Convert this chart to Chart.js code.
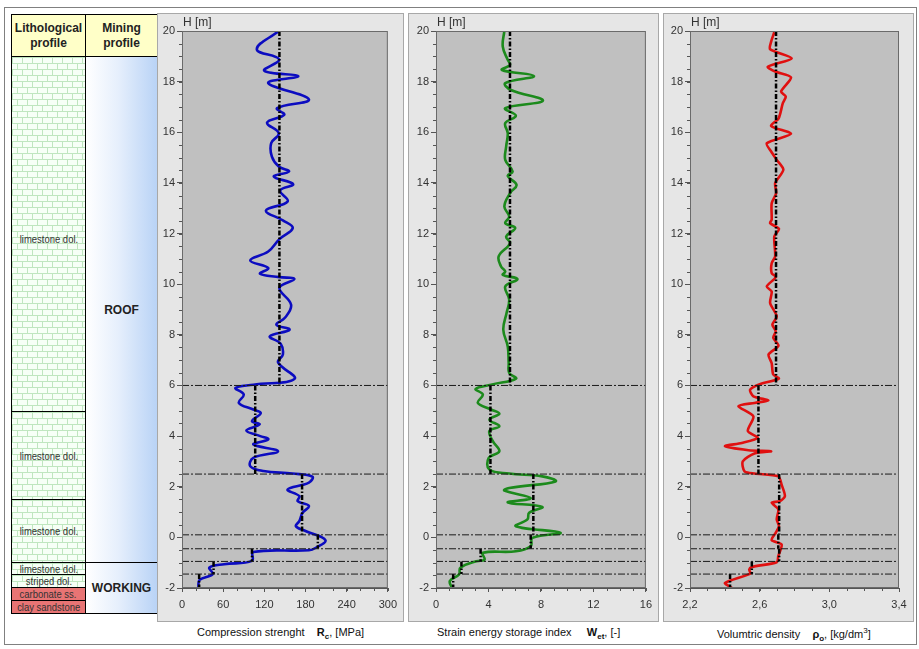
<!DOCTYPE html>
<html>
<head>
<meta charset="utf-8">
<script src="https://cdn.jsdelivr.net/npm/chart.js@4.4.0/dist/chart.umd.min.js"></script>
<style>
  body { margin: 0; width: 919px; height: 649px; background: #fff; position: relative; overflow: hidden;
         font-family: "Liberation Sans", Arial, sans-serif; color: #222; }
  #frame { position: absolute; left: 4px; top: 7px; width: 911px; height: 636px; border: 1px solid #808080; }
  .panel { position: absolute; top: 13px; height: 609px; background: #e6e6e6; border: 1px solid #a8a8a8; box-sizing: border-box; }
  canvas { position: absolute; top: 13px; }
  .cell { position: absolute; box-sizing: border-box; border: 1px solid #000; display: flex;
          align-items: center; justify-content: center; text-align: center; overflow: hidden; white-space: nowrap; }
  .head { background: #ffffc8; font-weight: bold; font-size: 12px; line-height: 15px; white-space: normal; }
  .litho { font-size: 11px; line-height: 10px; color: #333;
           background-color: #f6fff6;
           background-image: url("data:image/svg+xml,%3Csvg xmlns='http://www.w3.org/2000/svg' width='10' height='12'%3E%3Cpath d='M0 0.5H10M0 6.5H10M0.5 0V6M5.5 6V12' stroke='%23bfe6bf' stroke-width='1' fill='none'/%3E%3C/svg%3E"); }
  .litho span { display: inline-block; transform: scaleX(0.86); }
  .red { background: #e87474; }
  .mine { background: linear-gradient(90deg, #ffffff 0%, #e6effc 45%, #b9d3f6 100%); font-weight: bold; font-size: 12px; }
  .hlab { position: absolute; top: 15px; font-size: 12px; color: #333; }
  .xt { position: absolute; top: 626px; font-size: 11px; color: #111; white-space: nowrap; }
  .xt sub, .xt sup { font-size: 8px; }
</style>
</head>
<body>
<div id="frame"></div>

<div class="cell head" style="left:11px;top:14px;width:75px;height:43px;">Lithological<br>profile</div>
<div class="cell head" style="left:85px;top:14px;width:73px;height:43px;">Mining<br>profile</div>
<div class="cell litho" style="left:11px;top:56px;width:75px;height:356px;padding-top:10px;"><span>limestone dol.</span></div>
<div class="cell litho" style="left:11px;top:411px;width:75px;height:89px;"><span>limestone dol.</span></div>
<div class="cell litho" style="left:11px;top:499px;width:75px;height:64px;"><span>limestone dol.</span></div>
<div class="cell litho" style="left:11px;top:562px;width:75px;height:13px;"><span>limestone dol.</span></div>
<div class="cell litho" style="left:11px;top:574px;width:75px;height:14px;"><span>striped dol.</span></div>
<div class="cell litho red" style="left:11px;top:587px;width:75px;height:14px;"><span>carbonate ss.</span></div>
<div class="cell litho red" style="left:11px;top:600px;width:75px;height:14px;"><span>clay sandstone</span></div>
<div class="cell mine" style="left:85px;top:56px;width:73px;height:507px;">ROOF</div>
<div class="cell mine" style="left:85px;top:562px;width:73px;height:52px;">WORKING</div>

<div class="panel" style="left:157px;width:247px;"></div>
<div class="panel" style="left:408px;width:251px;"></div>
<div class="panel" style="left:663px;width:251px;"></div>

<canvas id="c1" width="246" height="609" style="left:157px"></canvas>
<canvas id="c2" width="250" height="609" style="left:408px"></canvas>
<canvas id="c3" width="250" height="609" style="left:663px"></canvas>

<div class="hlab" style="left:183px">H [m]</div>
<div class="hlab" style="left:437px">H [m]</div>
<div class="hlab" style="left:691px">H [m]</div>

<div class="xt" style="left:197px">Compression strenght&nbsp;&nbsp;&nbsp;&nbsp;<b>R</b><sub><b>c</b></sub>, [MPa]</div>
<div class="xt" style="left:437px">Strain energy storage index&nbsp;&nbsp;&nbsp;&nbsp;&nbsp;<b>W</b><sub><b>et</b></sub>, [-]</div>
<div class="xt" style="left:717px">Volumtric density&nbsp;&nbsp;&nbsp;&nbsp;<b>ρ</b><sub><b>o</b></sub>, [kg/dm<sup>3</sup>]</div>

<script>
// depth axis
const depthTicks = [-2, 0, 2, 4, 6, 8, 10, 12, 14, 16, 18, 20];
const layerTop  = [20, 6, 2.5, 0.1, -0.45, -0.95, -1.45];
const layerBase = [6, 2.5, 0.1, -0.45, -0.95, -1.45, -2];

// x tick labels per panel
const rcTicks  = [0, 60, 120, 180, 240, 300];
const wetTicks = [0, 4, 8, 12, 16];
const rhoTicks = [2.2, 2.6, 3.0, 3.4];

// layer means
const rcMean  = [142, 106.7, 175, 198, 102, 46, 25];
const wetMean = [5.64, 4.15, 7.42, 7.22, 3.4, 1.94, 1.31];
const rhoMean = [2.694, 2.593, 2.712, 2.707, 2.712, 2.555, 2.43];

// profiles: [H, value]
const rcProfile = [
  [20, 141], [19.28, 109], [18.88, 141.5], [18.43, 120], [18.22, 169.5], [17.94, 125.7], [17.3, 185],
  [16.95, 138.6], [16.69, 149], [16.38, 124], [15.96, 141], [15.57, 130], [15.04, 131], [14.65, 141],
  [14.45, 156], [14.25, 133.8], [13.95, 162], [13.7, 143], [13.27, 154], [12.91, 122.4], [12.52, 147],
  [12.22, 161.4], [11.78, 142], [11.29, 125.7], [10.94, 99.5], [10.64, 125.7], [10.41, 113.8], [10.28, 142],
  [10.2, 163.8], [9.85, 142], [9.19, 159], [8.67, 150], [8.4, 137.6], [8.2, 156.7], [7.94, 128],
  [7.65, 143.8], [7.22, 147], [6.91, 140], [6.26, 164], [6.03, 104], [5.9, 78], [5.64, 90], [5.31, 82.9],
  [5.05, 104], [4.91, 114.8], [4.59, 102], [4.46, 113], [4.22, 93.8], [4.0, 114], [3.87, 125.7], [3.67, 104],
  [3.4, 140], [3.14, 104], [2.81, 99.5], [2.62, 118.6], [2.52, 161], [2.4, 190], [2.16, 185], [1.89, 154],
  [1.63, 171], [1.43, 168.6], [1.24, 185], [0.97, 175.7], [0.64, 171], [0.44, 166], [0.25, 180], [-0.11, 209],
  [-0.41, 195], [-0.51, 185], [-0.58, 104], [-0.93, 102], [-1.06, 61.4], [-1.19, 40], [-1.45, 44.7],
  [-1.68, 25.7], [-1.98, 23.8]
];
const wetProfile = [
  [20, 5.21], [19.38, 5.09], [18.86, 5.47], [18.66, 5.64], [18.46, 5.03], [18.22, 7.47], [17.94, 5.28],
  [17.67, 5.71], [17.25, 8.15], [16.95, 5.28], [16.65, 6.09], [16.36, 5.28], [15.96, 5.47], [15.44, 5.35],
  [14.91, 5.28], [14.45, 5.84], [14.28, 5.47], [13.92, 6.14], [13.6, 5.65], [13.07, 5.21], [12.67, 5.58],
  [12.41, 5.28], [12.22, 6.04], [11.88, 5.35], [11.62, 5.64], [11.1, 4.78], [10.7, 4.96], [10.5, 5.28],
  [10.37, 5.09], [10.2, 6.21], [9.91, 5.28], [9.39, 5.58], [8.86, 5.38], [8.2, 5.13], [7.54, 5.47],
  [6.88, 5.54], [6.49, 5.58], [6.27, 6.1], [6.03, 4.2], [5.86, 3.02], [5.64, 3.57], [5.31, 3.19], [5.05, 4.2],
  [4.88, 4.83], [4.65, 4.07], [4.39, 4.83], [4.2, 4.07], [3.8, 4.33], [3.4, 4.83], [3.14, 4.02], [2.68, 4.07],
  [2.52, 5.58], [2.41, 8.1], [2.21, 9.11], [1.95, 5.58], [1.85, 5.21], [1.55, 7.22], [1.38, 5.47], [1.2, 8.1],
  [0.97, 7.1], [0.71, 6.97], [0.44, 6.09], [0.18, 9.49], [-0.02, 7.35], [-0.35, 7.22], [-0.55, 6.09],
  [-0.61, 3.57], [-0.88, 3.7], [-0.94, 3.08], [-1.2, 1.86], [-1.46, 1.76], [-1.72, 1.06], [-1.98, 1.19]
];
const rhoProfile = [
  [19.95, 2.684], [19.58, 2.666], [19.28, 2.66], [18.92, 2.784], [18.59, 2.647], [18.4, 2.689], [18.17, 2.78],
  [17.61, 2.723], [17.41, 2.75], [17.15, 2.733], [16.55, 2.709], [16.25, 2.666], [15.94, 2.78], [15.57, 2.641],
  [15.24, 2.666], [14.91, 2.698], [14.52, 2.736], [13.99, 2.689], [13.6, 2.695], [13.2, 2.669], [12.55, 2.669],
  [12.41, 2.66], [12.18, 2.711], [11.89, 2.684], [11.1, 2.689], [10.83, 2.669], [10.44, 2.669], [10.28, 2.692],
  [9.91, 2.641], [9.71, 2.669], [9.26, 2.66], [8.73, 2.698], [8.4, 2.673], [8.14, 2.692], [7.88, 2.678],
  [7.57, 2.708], [7.22, 2.651], [6.88, 2.669], [6.43, 2.678], [6.27, 2.71], [6.03, 2.593], [5.83, 2.545],
  [5.57, 2.564], [5.41, 2.65], [5.31, 2.57], [5.18, 2.478], [4.78, 2.564], [4.2, 2.532], [3.93, 2.589],
  [3.73, 2.497], [3.6, 2.401], [3.44, 2.536], [3.4, 2.666], [3.31, 2.57], [3.0, 2.503], [2.61, 2.513],
  [2.52, 2.57], [2.41, 2.707], [2.08, 2.726], [1.63, 2.745], [1.43, 2.717], [1.37, 2.669], [1.11, 2.707],
  [0.71, 2.698], [0.44, 2.711], [0.18, 2.692], [-0.11, 2.669], [-0.28, 2.726], [-0.74, 2.707], [-0.98, 2.698],
  [-1.17, 2.555], [-1.27, 2.54], [-1.43, 2.546], [-1.8, 2.401], [-1.99, 2.44]
];

Chart.defaults.font.family = "'Liberation Sans', Arial, sans-serif";
Chart.defaults.font.size = 11;
Chart.defaults.color = '#333';

// plot background, frame and minor ticks
const profilePlot = {
  id: 'profilePlot',
  beforeDraw(chart) {
    const a = chart.chartArea, ctx = chart.ctx;
    ctx.save();
    ctx.fillStyle = '#c0c0c0';
    ctx.fillRect(a.left, a.top, a.width, a.height);
    ctx.restore();
  },
  afterDraw(chart, args, opts) {
    const a = chart.chartArea, ctx = chart.ctx;
    const xs = chart.scales.x, ys = chart.scales.y;
    ctx.save();
    ctx.strokeStyle = '#6a6a6a';
    ctx.lineWidth = 1;
    ctx.strokeRect(a.left + 0.5, a.top + 0.5, a.width - 1, a.height - 1);
    ctx.strokeStyle = '#555';
    ctx.beginPath();
    for (let v = -2; v <= 20.001; v += 0.5) {
      const y = Math.round(ys.getPixelForValue(v)) + 0.5;
      ctx.moveTo(a.left - 3, y); ctx.lineTo(a.left, y);
    }
    for (let i = 0; i <= opts.minorCount; i++) {
      const v = xs.min + (xs.max - xs.min) * i / opts.minorCount;
      const x = Math.round(xs.getPixelForValue(v)) + 0.5;
      ctx.moveTo(x, a.bottom); ctx.lineTo(x, a.bottom + 3);
    }
    ctx.stroke();
    ctx.restore();
  }
};

function makePanel(id, profile, means, color, tension, xTicks, minorCount, fmt, padRight, yWidth) {
  const xMin = xTicks[0], xMax = xTicks[xTicks.length - 1];
  const datasets = [];

  layerTop.slice(1).forEach(h => {
    datasets.push({
      data: [{ x: xMin, y: h }, { x: xMax, y: h }],
      borderColor: '#1a1a1a', borderWidth: 1, borderDash: [7, 2, 2, 2],
      pointRadius: 0, showLine: true
    });
  });

  means.forEach((m, i) => {
    datasets.push({
      data: [{ x: m, y: layerTop[i] }, { x: m, y: layerBase[i] }],
      borderColor: '#000', borderWidth: 2.5, borderDash: [5, 2, 1.5, 2],
      pointRadius: 0, showLine: true
    });
  });

  datasets.push({
    data: profile.map(p => ({ x: p[1], y: p[0] })),
    borderColor: color, borderWidth: 2.6, tension: tension,
    pointRadius: 0, showLine: true
  });

  return new Chart(document.getElementById(id), {
    type: 'scatter',
    data: { datasets },
    options: {
      responsive: false, animation: false, events: [],
      layout: { padding: { top: 18, right: padRight, left: 0, bottom: 0 } },
      plugins: { legend: { display: false }, tooltip: { enabled: false }, profilePlot: { minorCount } },
      scales: {
        x: {
          type: 'linear', min: xMin, max: xMax,
          afterBuildTicks: s => { s.ticks = xTicks.map(v => ({ value: v })); },
          afterFit: s => { s.height = 34; },
          ticks: { callback: fmt, padding: 6, color: '#333' },
          grid: { drawOnChartArea: false, tickLength: 4, color: '#555' },
          border: { color: '#555' }
        },
        y: {
          type: 'linear', min: -2, max: 20,
          afterBuildTicks: s => { s.ticks = depthTicks.map(v => ({ value: v })); },
          afterFit: s => { s.width = yWidth; },
          ticks: { padding: 2, color: '#333' },
          grid: { drawOnChartArea: false, tickLength: 5, color: '#555' },
          border: { color: '#555' }
        }
      }
    },
    plugins: [profilePlot]
  });
}

makePanel('c1', rcProfile, rcMean, '#0c0cc0', 0.4, rcTicks, 15, v => v, 11, 25);
makePanel('c2', wetProfile, wetMean, '#1c8a1c', 0.4, wetTicks, 16, v => v, 10, 28);
makePanel('c3', rhoProfile, rhoMean, '#e01010', 0.25, rhoTicks, 12, v => v.toFixed(1).replace('.', ','), 14, 27);
</script>
</body>
</html>
